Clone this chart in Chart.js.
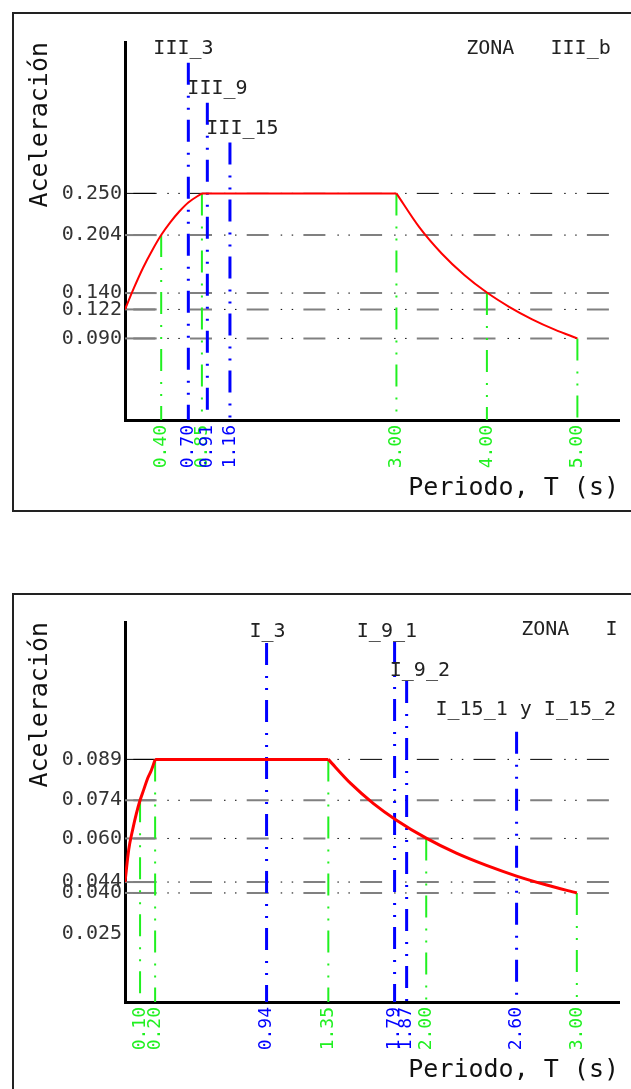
<!DOCTYPE html>
<html lang="es">
<head>
<meta charset="UTF-8" />
<title>Espectros de diseño</title>
<script src="https://cdn.jsdelivr.net/npm/chart.js"></script>
<style>
  body { margin: 0; background: #fff; width: 631px; height: 1089px; overflow: hidden; position: relative; }
  /* marcos del plano */
  .marco { position: absolute; left: 12px; width: 650px; border: 2px solid #222; border-right: none; }
  #marcoA { top: 12px; height: 496px; }
  #marcoB { top: 593px; height: 520px; border-bottom: none; }
  canvas { position: absolute; left: 0; }
  #zonaA { top: 0; }
  #zonaB { top: 580px; }
</style>
</head>
<body>
<div class="marco" id="marcoA"></div>
<div class="marco" id="marcoB"></div>
<canvas id="zonaA" width="631" height="560"></canvas>
<canvas id="zonaB" width="631" height="509"></canvas>

<script>
  // ---- Zona III_b ----
  const subidaT_A = [0, 0.1, 0.2, 0.3, 0.4, 0.5, 0.6, 0.7, 0.85];
  const subidaA_A = [0.122, 0.146, 0.168, 0.187, 0.204, 0.218, 0.230, 0.240, 0.250];
  const bajadaT_A = [3.00, 3.25, 3.50, 3.75, 4.00, 4.25, 4.50, 4.75, 5.00];
  const bajadaA_A = [0.250, 0.2130, 0.1837, 0.1600, 0.1406, 0.1246, 0.1111, 0.0997, 0.090];
  const niveles_A = [0.250, 0.204, 0.140, 0.122, 0.090];
  const verdesT_A = [0.40, 0.85, 3.00, 4.00, 5.00];
  const verdesA_A = [0.204, 0.250, 0.250, 0.140, 0.090];
  const azulesT_A = [0.70, 0.91, 1.16];
  const azulesTope_A = [0.394, 0.350, 0.306];
  const nombres_A = ['III_3', 'III_9', 'III_15', 'ZONA   III_b'];
  const ticksY_A = [0.250, 0.204, 0.140, 0.122, 0.090];

  // ---- Zona I ----
  const subidaT_B = [0, 0.025, 0.05, 0.075, 0.10, 0.125, 0.15, 0.175, 0.20];
  const subidaA_B = [0.044, 0.056, 0.063, 0.069, 0.074, 0.078, 0.082, 0.085, 0.089];
  const bajadaT_B = [1.35, 1.50, 1.65, 1.80, 2.00, 2.20, 2.40, 2.60, 2.80, 3.00];
  const bajadaA_B = [0.089, 0.0801, 0.0728, 0.0668, 0.0601, 0.0546, 0.0501, 0.0462, 0.0429, 0.040];
  const niveles_B = [0.089, 0.074, 0.060, 0.044, 0.040];
  const verdesT_B = [0.10, 0.20, 1.35, 2.00, 3.00];
  const verdesA_B = [0.074, 0.089, 0.089, 0.060, 0.040];
  const azulesT_B = [0.94, 1.79, 1.87, 2.60];
  const azulesTope_B = [0.1317, 0.1321, 0.1178, 0.0991];
  const nombres_B = ['I_3', 'I_9_1', 'I_9_2', 'I_15_1 y I_15_2', 'ZONA   I'];
  const ticksY_B = [0.089, 0.074, 0.060, 0.044, 0.040, 0.025];

  const VERDE = '#20f020';
  const AZUL = '#0000ff';
  const FUENTE = "'DejaVu Sans Mono', monospace";
  const TRAZO = [22, 11, 2, 10, 2, 10];   // raya - punto - punto

  // textos sobre la gráfica (en coordenadas T, a)
  const rotulos = {
    id: 'rotulos',
    afterDatasetsDraw(chart, args, opts) {
      const { ctx, scales: { x, y } } = chart;
      ctx.save();
      ctx.font = '20px ' + FUENTE;
      ctx.fillStyle = '#222';
      ctx.textAlign = 'center';
      ctx.textBaseline = 'middle';
      opts.items.forEach(r => ctx.fillText(r.texto, x.getPixelForValue(r.t), y.getPixelForValue(r.a)));
      ctx.restore();
    }
  };

  function recta(puntos, color, ancho, trazo, desfase, modo) {
    return {
      data: puntos, borderColor: color, borderWidth: ancho,
      borderDash: trazo || [], borderDashOffset: desfase || 0,
      pointRadius: 0, fill: false, tension: 0,
      cubicInterpolationMode: modo || 'default'
    };
  }

  function capas(z) {
    const ds = [];
    const techo = z.niveles[0];
    const rojo = '#ff0000';
    ds.push(recta(z.subidaT.map((t, i) => ({ x: t, y: z.subidaA[i] })), rojo, z.grosor, [], 0, 'monotone'));
    ds.push(recta([{ x: z.subidaT[z.subidaT.length - 1], y: techo }, { x: z.bajadaT[0], y: techo }], rojo, z.grosor));
    ds.push(recta(z.bajadaT.map((t, i) => ({ x: t, y: z.bajadaA[i] })), rojo, z.grosor, [], 0, 'monotone'));
    z.azulesT.forEach((t, i) => ds.push(recta([{ x: t, y: z.azulesTope[i] }, { x: t, y: 0 }], AZUL, 3, TRAZO)));
    z.verdesT.forEach((t, i) => ds.push(recta([{ x: t, y: z.verdesA[i] }, { x: t, y: 0 }], VERDE, 2, TRAZO)));
    z.niveles.forEach((v, i) => {
      const arriba = i === 0;
      const col = arriba ? '#000' : '#808080';
      const w = arriba ? 1 : 2;
      ds.push(recta([{ x: 0, y: v }, { x: z.xMax, y: v }], '#000', 1, [1.5, 9.5, 1.5, 44.2], 14.4));
      ds.push(recta([{ x: 0, y: v }, { x: z.xMax, y: v }], col, w, [22, 34.7], 48.4));
      ds.push(recta([{ x: 0, y: v }, { x: z.tramo, y: v }], col, w));
    });
    return ds;
  }

  function grafico(id, z) {
    const ticksX = z.verdesT.concat(z.azulesT).sort((a, b) => a - b);
    new Chart(document.getElementById(id), {
      type: 'line',
      data: { datasets: capas(z) },
      options: {
        responsive: false,
        animation: false,
        events: [],
        layout: { autoPadding: false, padding: { top: 42, right: 12, bottom: z.margenInf, left: 0 } },
        plugins: {
          legend: { display: false },
          tooltip: { enabled: false },
          rotulos: { items: z.rotulos }
        },
        scales: {
          x: {
            type: 'linear', min: 0, max: z.xMax,
            afterBuildTicks: s => { s.ticks = ticksX.map(v => ({ value: v })); },
            afterFit: s => { s.height = 83; },
            grid: { display: false, drawTicks: false },
            border: { color: '#000', width: 3 },
            ticks: {
              autoSkip: false, minRotation: 90, maxRotation: 90, padding: 5,
              font: { family: FUENTE, size: 18 },
              color: c => z.azulesT.includes(c.tick.value) ? AZUL : VERDE,
              callback: v => v.toFixed(2)
            },
            title: {
              display: true, text: 'Periodo, T (s)', align: 'end', color: '#111',
              font: { family: FUENTE, size: 25 }, padding: { top: 0, bottom: 0 }
            }
          },
          y: {
            min: 0, max: z.yMax,
            afterBuildTicks: s => { s.ticks = z.ticksY.map(v => ({ value: v })); },
            afterFit: s => { s.width = 125; },
            grid: { display: false, drawTicks: false },
            border: { color: '#000', width: 3 },
            ticks: {
              padding: 3, color: '#333',
              font: { family: FUENTE, size: 20 },
              callback: v => v.toFixed(3)
            },
            title: {
              display: true, text: 'Aceleración', align: 'end', color: '#111',
              font: { family: FUENTE, size: 25 }, padding: { top: 25, bottom: 0 }
            }
          }
        }
      },
      plugins: [rotulos]
    });
  }

  grafico('zonaA', {
    subidaT: subidaT_A, subidaA: subidaA_A, bajadaT: bajadaT_A, bajadaA: bajadaA_A,
    niveles: niveles_A, verdesT: verdesT_A, verdesA: verdesA_A,
    azulesT: azulesT_A, azulesTope: azulesTope_A, ticksY: ticksY_A,
    xMax: 5.46, yMax: 0.417, tramo: 0.35, grosor: 2, margenInf: 57,
    rotulos: [
      { texto: nombres_A[0], t: 0.646, a: 0.410 },
      { texto: nombres_A[1], t: 1.022, a: 0.365 },
      { texto: nombres_A[2], t: 1.298, a: 0.321 },
      { texto: nombres_A[3], t: 4.570, a: 0.409 }
    ]
  });

  grafico('zonaB', {
    subidaT: subidaT_B, subidaA: subidaA_B, bajadaT: bajadaT_B, bajadaA: bajadaA_B,
    niveles: niveles_B, verdesT: verdesT_B, verdesA: verdesA_B,
    azulesT: azulesT_B, azulesTope: azulesTope_B, ticksY: ticksY_B,
    xMax: 3.28, yMax: 0.1394, tramo: 0.21, grosor: 3, margenInf: 4,
    rotulos: [
      { texto: nombres_B[0], t: 0.946, a: 0.1358 },
      { texto: nombres_B[1], t: 1.739, a: 0.1358 },
      { texto: nombres_B[2], t: 1.958, a: 0.1215 },
      { texto: nombres_B[3], t: 2.661, a: 0.1072 },
      { texto: nombres_B[4], t: 2.950, a: 0.1365 }
    ]
  });
</script>
</body>
</html>
